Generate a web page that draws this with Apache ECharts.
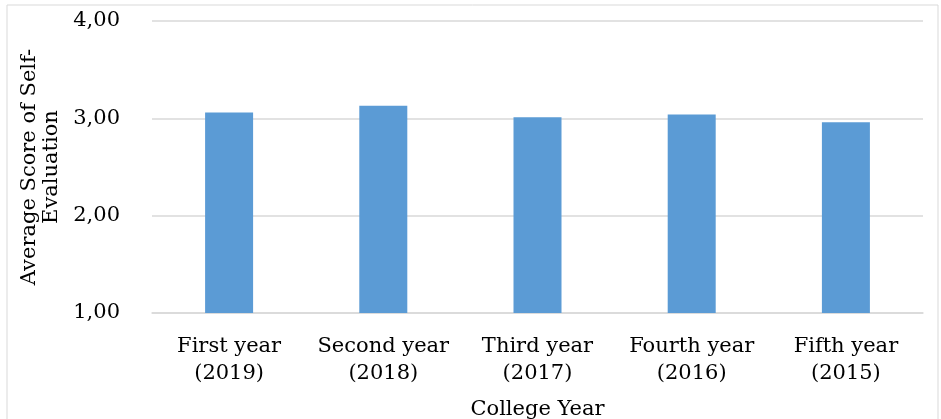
<!DOCTYPE html>
<html>
<head>
<meta charset="utf-8">
<script src="https://cdn.jsdelivr.net/npm/echarts@6/dist/echarts.min.js"></script>
<style>
  html, body { margin: 0; padding: 0; background: #fff; }
  #chart { width: 941px; height: 419px; }
</style>
</head>
<body>
<div id="chart"></div>
<script>
var categories = ['First year\n(2019)', 'Second year\n(2018)', 'Third year\n(2017)', 'Fourth year\n(2016)', 'Fifth year\n(2015)'];
var scores = [3.06, 3.13, 3.01, 3.04, 2.96];
var yTicks = [1, 2, 3, 4];

var font = '"DejaVu Serif", "Liberation Serif", serif';
var chart = echarts.init(document.getElementById('chart'));

chart.setOption({
    backgroundColor: '#fff',
    textStyle: { fontFamily: font },
    grid: { left: 152, right: 18, top: 21, bottom: 106, outerBoundsMode: 'none' },
    graphic: [{
        type: 'rect',
        shape: { x: 7, y: 5, width: 931, height: 430 },
        style: { fill: 'none', stroke: '#d9d9d9', lineWidth: 1 },
        silent: true
    }],
    xAxis: {
        type: 'category',
        data: categories,
        name: 'College Year',
        nameLocation: 'middle',
        nameGap: 86,
        nameTextStyle: { fontSize: 21, color: '#000', fontFamily: font },
        axisLine: { lineStyle: { color: '#d9d9d9', width: 1.5 } },
        axisTick: { show: false },
        axisLabel: {
            fontSize: 21, color: '#000', lineHeight: 27, margin: 20,
            fontFamily: font, interval: 0
        }
    },
    yAxis: {
        type: 'value',
        min: yTicks[0],
        max: yTicks[yTicks.length - 1],
        interval: 1,
        name: 'Average Score of Self-\nEvaluation',
        nameLocation: 'middle',
        nameRotate: 90,
        nameGap: 79,
        nameTextStyle: { fontSize: 21, color: '#000', lineHeight: 22, fontFamily: font },
        axisLine: { show: false },
        axisTick: { show: false },
        axisLabel: {
            fontSize: 21, color: '#000', margin: 32, fontFamily: font,
            formatter: function (v) { return v.toFixed(2).replace('.', ','); }
        },
        splitLine: { lineStyle: { color: '#d9d9d9', width: 1.5 } }
    },
    series: [{
        type: 'bar',
        data: scores,
        barWidth: 48,
        itemStyle: { color: '#5b9bd5' }
    }]
});
</script>
</body>
</html>
